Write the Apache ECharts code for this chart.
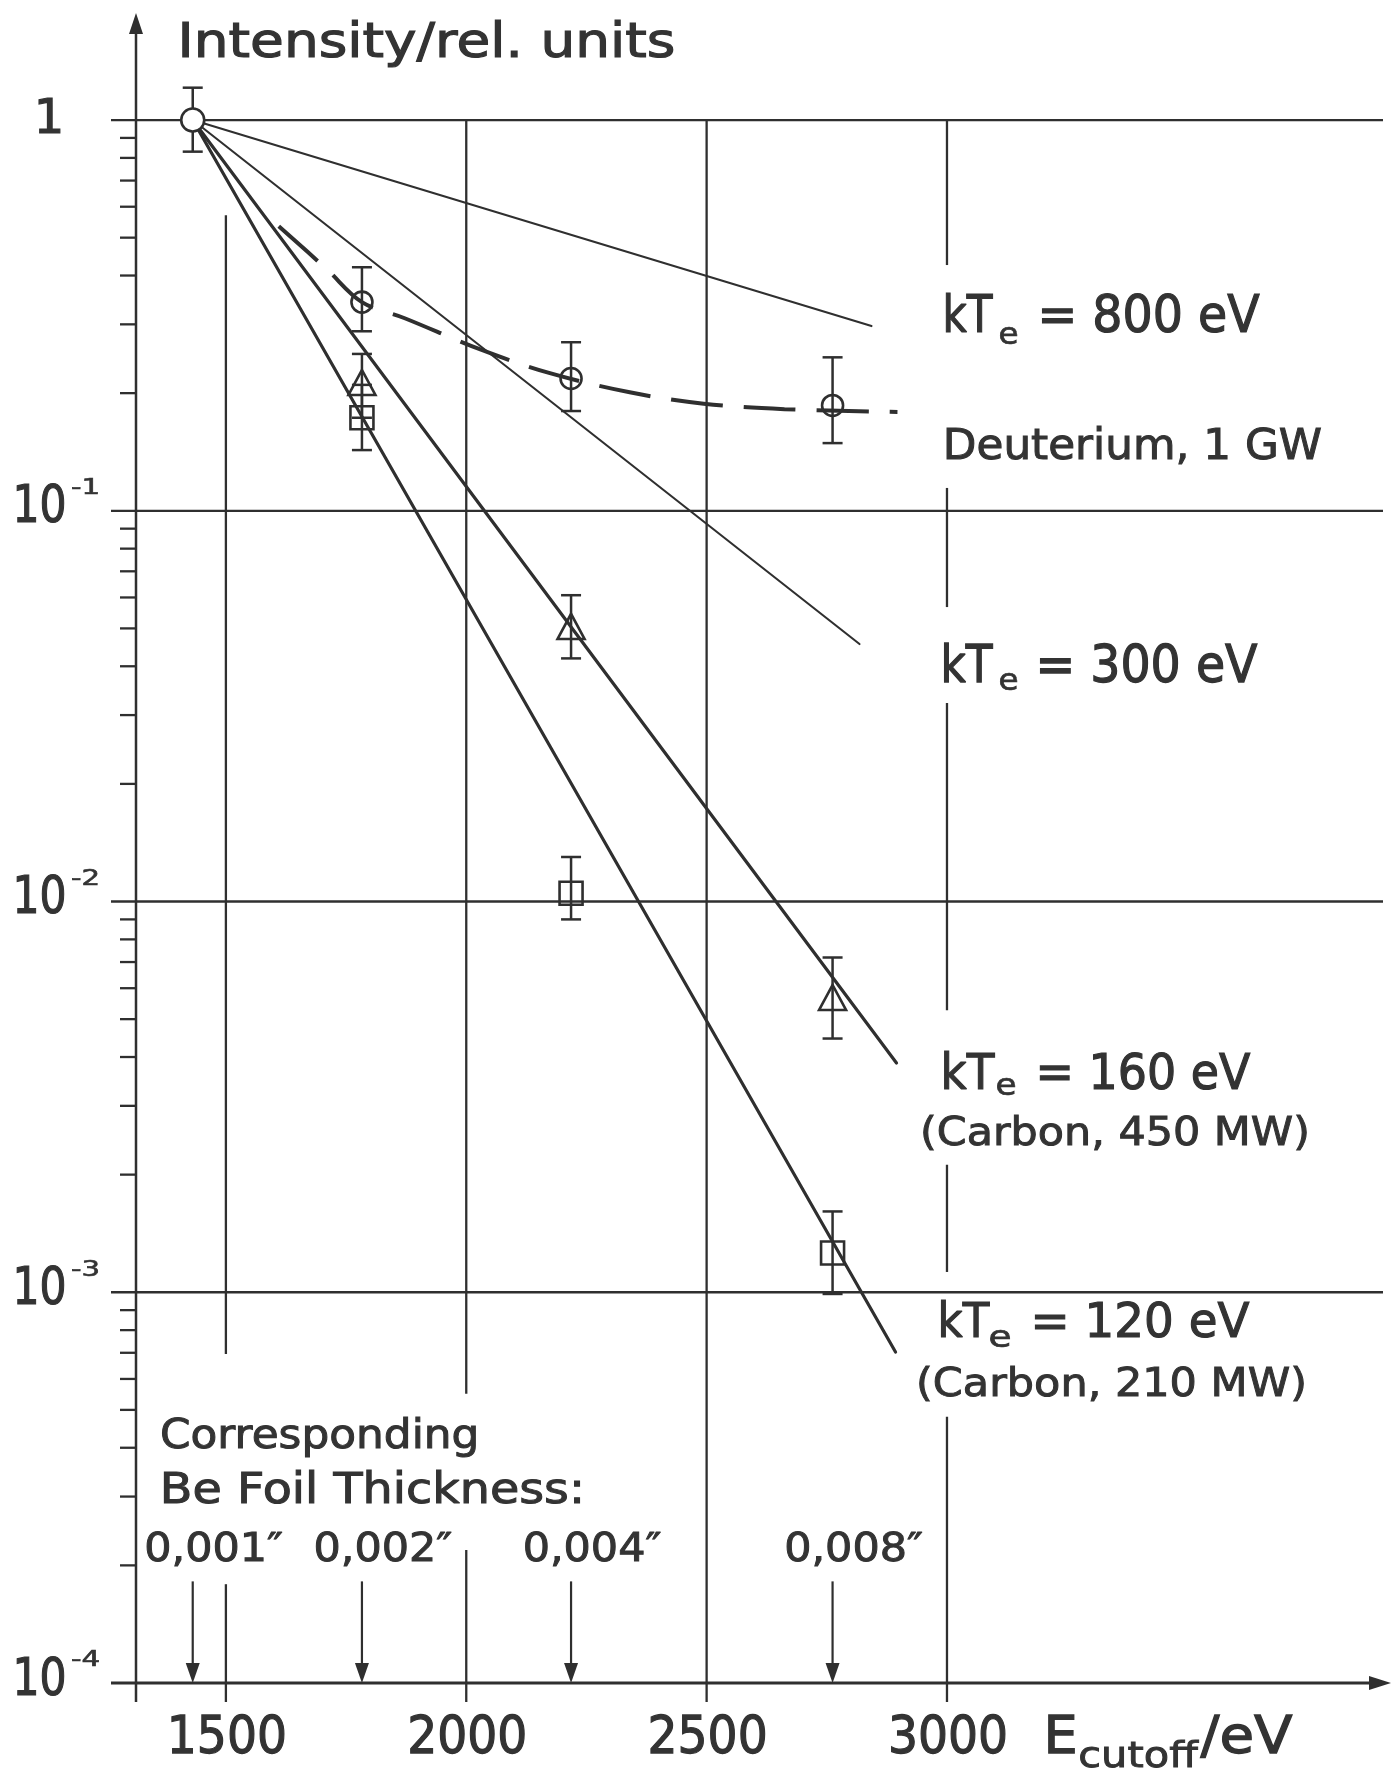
<!DOCTYPE html>
<html>
<head>
<meta charset="utf-8">
<script src="https://cdn.jsdelivr.net/npm/echarts@6/dist/echarts.min.js"></script>
<style>
  html, body { margin: 0; padding: 0; background: #fff; }
  #chart { width: 1396px; height: 1774px; }
</style>
</head>
<body>
<div id="chart"></div>
<script>
// ---- axis ranges and tick labels ----
const X_MIN = 1313, X_MAX = 3907;
const Y_MIN = 1e-4, Y_MAX = 1.879;
const xTicks = [1500, 2000, 2500, 3000];
const yDecades = [1, 0.1, 0.01, 0.001, 0.0001];
const yExponents = ['', '-1', '-2', '-3', '-4'];

// ---- Be foil thicknesses and their cut-off energies (eV) ----
const foilEnergies = [1431, 1783, 2218, 2762];
const foilLabels = ['0,001\u2033', '0,002\u2033', '0,004\u2033', '0,008\u2033'];

// ---- Deuterium, 1 GW (circles) ----
const deutE = [1431, 1783, 2218, 2762];
const deutI = [1.0, 0.342, 0.218, 0.186];
const deutLow = [0.83, 0.288, 0.180, 0.149];
const deutHigh = [1.21, 0.42, 0.270, 0.247];

// ---- Carbon, 450 MW (triangles) ----
const c450E = [1783, 2218, 2762];
const c450I = [0.213, 0.0506, 0.00568];
const c450Low = [0.173, 0.0419, 0.00446];
const c450High = [0.252, 0.0608, 0.00719];

// ---- Carbon, 210 MW (squares) ----
const c210E = [1783, 2218, 2762];
const c210I = [0.173, 0.0105, 0.00126];
const c210Low = [0.143, 0.0090, 0.00099];
const c210High = [0.21, 0.0130, 0.00161];

// ---- dashed trend through the deuterium points ----
const deutTrendE = [1610, 1710, 1783, 1872, 2032, 2174, 2340, 2494, 2662, 2897];
const deutTrendI = [0.535, 0.415, 0.342, 0.311, 0.258, 0.225, 0.201, 0.188, 0.182, 0.179];

// ---- calculated transmission for several electron temperatures ----
const kt800E = [1431, 2843], kt800I = [1, 0.297];
const kt300E = [1431, 2818], kt300I = [1, 0.0456];
const kt160E = [1431, 2895], kt160I = [1, 0.00386];
const kt120E = [1431, 2893], kt120I = [1, 0.000703];

const INK = '#333333';
const LINE = '#2f2f2f';
const FONT = '"DejaVu Sans", "Noto Sans", sans-serif';

const zip = (a, b) => a.map((v, i) => [v, b[i]]);
const zip3 = (a, b, c) => a.map((v, i) => [v, b[i], c[i]]);

// vertical grid lines are interrupted where the annotations sit
const ARROW_TOP = 1.82e-4;
const vLines = [
  { e: 1500, spans: [[0.571, 6.95e-4], [1.79e-4, Y_MIN]] },
  { e: 2000, spans: [[1, 5.5e-4], [2.19e-4, Y_MIN]] },
  { e: 2500, spans: [[1, Y_MIN]] },
  { e: 3000, spans: [[1, 0.4255], [0.1144, 0.0567], [0.0322, 0.00527], [0.00212, 0.001127], [4.8e-4, Y_MIN]] }
];

function seg(kids, x1, y1, x2, y2, w) {
  kids.push({ type: 'line', shape: { x1, y1, x2, y2 },
    style: { stroke: LINE, lineWidth: w, lineCap: 'butt' } });
}

function renderFrame(params, api) {
  const c = (e, v) => api.coord([e, v]);
  const kids = [];
  const [x0, yBot] = c(X_MIN, Y_MIN);
  const [x1, yTop] = c(X_MAX, Y_MAX);
  // decade lines, starting a little left of the ordinate
  yDecades.forEach(v => {
    const y = c(X_MIN, v)[1];
    seg(kids, x0 - 25, y, v === Y_MIN ? x1 - 4 : x1, y, v === Y_MIN ? 2.8 : 2.3);
  });
  // abscissa arrowhead
  kids.push({ type: 'polygon', shape: { points: [[x1 + 8, yBot], [x1 - 14, yBot - 7], [x1 - 14, yBot + 7]] },
    style: { fill: LINE } });
  // ordinate with arrowhead
  seg(kids, x0, yTop + 16, x0, yBot + 19, 2.5);
  kids.push({ type: 'polygon', shape: { points: [[x0, yTop], [x0 - 7, yTop + 21], [x0 + 7, yTop + 21]] },
    style: { fill: LINE } });
  // minor log ticks
  for (let k = -4; k <= -1; k++) {
    for (let m = 2; m <= 9; m++) {
      const y = c(X_MIN, m * Math.pow(10, k))[1];
      seg(kids, x0 - 16, y, x0, y, 2.3);
    }
  }
  // vertical grid lines with their gaps
  vLines.forEach(l => {
    l.spans.forEach(([a, b]) => {
      const pa = c(l.e, a), pb = c(l.e, b);
      seg(kids, pa[0], pa[1], pb[0], pb[1] + (b === Y_MIN ? 19 : 0), 2.3);
    });
  });
  return { type: 'group', children: kids };
}

function renderFoilArrow(params, api) {
  const e = api.value(0);
  const top = api.coord([e, ARROW_TOP]);
  const tip = api.coord([e, Y_MIN]);
  return { type: 'group', children: [
    { type: 'line', shape: { x1: top[0], y1: top[1], x2: tip[0], y2: tip[1] - 14 },
      style: { stroke: LINE, lineWidth: 2.2 } },
    { type: 'polygon', shape: { points: [[tip[0], tip[1]], [tip[0] - 7, tip[1] - 20], [tip[0] + 7, tip[1] - 20]] },
      style: { fill: LINE } }
  ] };
}

function renderErrorBar(params, api) {
  const e = api.value(0);
  const lo = api.coord([e, api.value(1)]);
  const hi = api.coord([e, api.value(2)]);
  const h = 10;
  const st = { stroke: LINE, lineWidth: 2.5 };
  return { type: 'group', children: [
    { type: 'line', shape: { x1: lo[0], y1: lo[1], x2: hi[0], y2: hi[1] }, style: st },
    { type: 'line', shape: { x1: lo[0] - h, y1: lo[1], x2: lo[0] + h, y2: lo[1] }, style: st },
    { type: 'line', shape: { x1: hi[0] - h, y1: hi[1], x2: hi[0] + h, y2: hi[1] }, style: st }
  ] };
}

const fitLine = (name, e, i, w) => ({
  name, type: 'line', data: zip(e, i), showSymbol: false, silent: true, z: 3,
  lineStyle: { color: LINE, width: w, cap: 'round', opacity: 1 }
});

const hollow = { color: 'rgba(255,255,255,0)', borderColor: LINE, borderWidth: 2.6, opacity: 1 };

const option = {
  backgroundColor: '#ffffff',
  animation: false,
  grid: { left: 136, right: 13, top: 13, bottom: 91 },
  xAxis: { type: 'value', min: X_MIN, max: X_MAX, show: false },
  yAxis: { type: 'log', logBase: 10, min: Y_MIN, max: Y_MAX, show: false },
  series: [
    { type: 'custom', name: 'frame', renderItem: renderFrame, data: [[X_MIN, Y_MIN]], silent: true, z: 1,
      encode: { x: 0, y: 1 } },
    { type: 'custom', name: 'foil arrows', renderItem: renderFoilArrow,
      data: foilEnergies.map(e => [e, Y_MIN]), silent: true, z: 2, encode: { x: 0, y: 1 } },
    fitLine('kTe = 800 eV', kt800E, kt800I, 2.1),
    fitLine('kTe = 300 eV', kt300E, kt300I, 2.1),
    fitLine('kTe = 160 eV', kt160E, kt160I, 3.2),
    fitLine('kTe = 120 eV', kt120E, kt120I, 3.2),
    { name: 'Deuterium trend', type: 'line', data: zip(deutTrendE, deutTrendI), smooth: 0.35,
      showSymbol: false, silent: true, z: 3,
      lineStyle: { color: LINE, width: 4, type: [52, 21], cap: 'butt' } },
    { type: 'custom', name: 'error bars', renderItem: renderErrorBar, silent: true, z: 4,
      encode: { x: 0, y: [1, 2] },
      data: [].concat(zip3(deutE, deutLow, deutHigh), zip3(c450E, c450Low, c450High), zip3(c210E, c210Low, c210High)) },
    { name: 'Deuterium, 1 GW', type: 'scatter', data: zip(deutE, deutI).slice(1), symbol: 'circle',
      symbolSize: 21, itemStyle: hollow, silent: true, z: 5 },
    { name: 'reference point', type: 'scatter', data: zip(deutE, deutI).slice(0, 1), symbol: 'circle',
      symbolSize: 23, itemStyle: { color: '#ffffff', borderColor: LINE, borderWidth: 2.6, opacity: 1 },
      silent: true, z: 6 },
    { name: 'Carbon, 450 MW', type: 'scatter', data: zip(c450E, c450I), symbol: 'triangle',
      symbolSize: [27, 25], itemStyle: hollow, silent: true, z: 5 },
    { name: 'Carbon, 210 MW', type: 'scatter', data: zip(c210E, c210I), symbol: 'rect',
      symbolSize: 23, itemStyle: hollow, silent: true, z: 5 }
  ]
};

const chart = echarts.init(document.getElementById('chart'), null, { renderer: 'canvas' });
chart.setOption(option);

// ---- text, sized by cap height and fitted to its width ----
const measureCtx = document.createElement('canvas').getContext('2d');
function advance(s, size) {
  measureCtx.font = size + 'px ' + FONT;
  return measureCtx.measureText(s).width;
}
const CAP = 0.729;
function text(s, opts) {
  const size = opts.size || opts.cap / CAP;
  let x, sx = 1, align = 'left';
  if (opts.l !== undefined && opts.r !== undefined) {
    const target = (opts.r - opts.l) + 0.1 * size;
    sx = target / advance(s, size);
    x = opts.l - 0.05 * size;
  } else if (opts.cx !== undefined) {
    align = 'center';
    x = opts.cx;
    if (opts.w) sx = (opts.w + 0.1 * size) / advance(s, size);
  }
  return { type: 'text', x, y: opts.cy, scaleX: sx, silent: true, z: 100,
    style: { text: s, font: size.toFixed(1) + 'px ' + FONT, fill: INK,
      stroke: INK, lineWidth: Math.max(0.6, size * 0.024),
      align, textAlign: align, verticalAlign: 'middle', textVerticalAlign: 'middle' } };
}

const px = (e, v) => chart.convertToPixel({ gridIndex: 0 }, [e, v]);
const g = [];

// ordinate title
g.push(text('Intensity/rel. units', { l: 180, r: 673, cy: 44.5, cap: 35 }));

// ordinate decade labels
yDecades.forEach((v, i) => {
  const y = px(X_MIN, v)[1];
  if (!yExponents[i]) {
    g.push(text('1', { cx: 49, cy: y, cap: 35 }));
  } else {
    g.push(text('10', { l: 15, r: 64, cy: y - 1.5, cap: 37 }));
    g.push(text(yExponents[i], { l: 72, r: 99, cy: y - 22, size: 21 }));
  }
});

// abscissa labels
xTicks.forEach(v => {
  const x = px(v, Y_MIN)[0];
  g.push(text(String(v), { cx: x + 1, w: 115, cy: 1739, cap: 38 }));
});
g.push(text('E', { l: 1046, r: 1075, cy: 1739, cap: 38 }));
g.push(text('cutoff', { l: 1080, r: 1196, cy: 1758, size: 35 }));
g.push(text('/eV', { l: 1203, r: 1290, cy: 1739, cap: 38 }));

// temperature annotations
const ktLabels = [
  { kt: [945, 990, 318.5, 37], sub: [1000, 1017, 336], rest: ['= 800 eV', 1040, 1257] },
  { kt: [943, 990, 668, 38], sub: [1000, 1017, 682], rest: ['= 300 eV', 1038, 1255] },
  { kt: [943, 992, 1076, 36], sub: [997, 1015, 1087], rest: ['= 160 eV', 1038, 1248] },
  { kt: [940, 987, 1324.5, 35], sub: [990, 1010, 1339], rest: ['= 120 eV', 1033, 1247] }
];
ktLabels.forEach(k => {
  g.push(text('kT', { l: k.kt[0], r: k.kt[1], cy: k.kt[2], cap: k.kt[3] }));
  g.push(text('e', { l: k.sub[0], r: k.sub[1], cy: k.sub[2], size: 31 }));
  g.push(text(k.rest[0], { l: k.rest[1], r: k.rest[2], cy: k.kt[2], cap: k.kt[3] }));
});
g.push(text('Deuterium, 1 GW', { l: 945, r: 1320, cy: 447.5, cap: 31 }));
g.push(text('(Carbon, 450 MW)', { l: 922, r: 1308, cy: 1135, cap: 28 }));
g.push(text('(Carbon, 210 MW)', { l: 918, r: 1305, cy: 1386, cap: 28 }));

// foil thickness legend
g.push(text('Corresponding', { l: 162, r: 477, cy: 1437, cap: 30 }));
g.push(text('Be Foil Thickness:', { l: 162, r: 583, cy: 1492, cap: 31 }));
foilEnergies.forEach((e, i) => {
  const x = px(e, Y_MIN)[0];
  g.push(text(foilLabels[i], { cx: x + 21, w: 135, cy: 1551, cap: 28 }));
});

chart.setOption({ graphic: { elements: g } });
</script>
</body>
</html>
